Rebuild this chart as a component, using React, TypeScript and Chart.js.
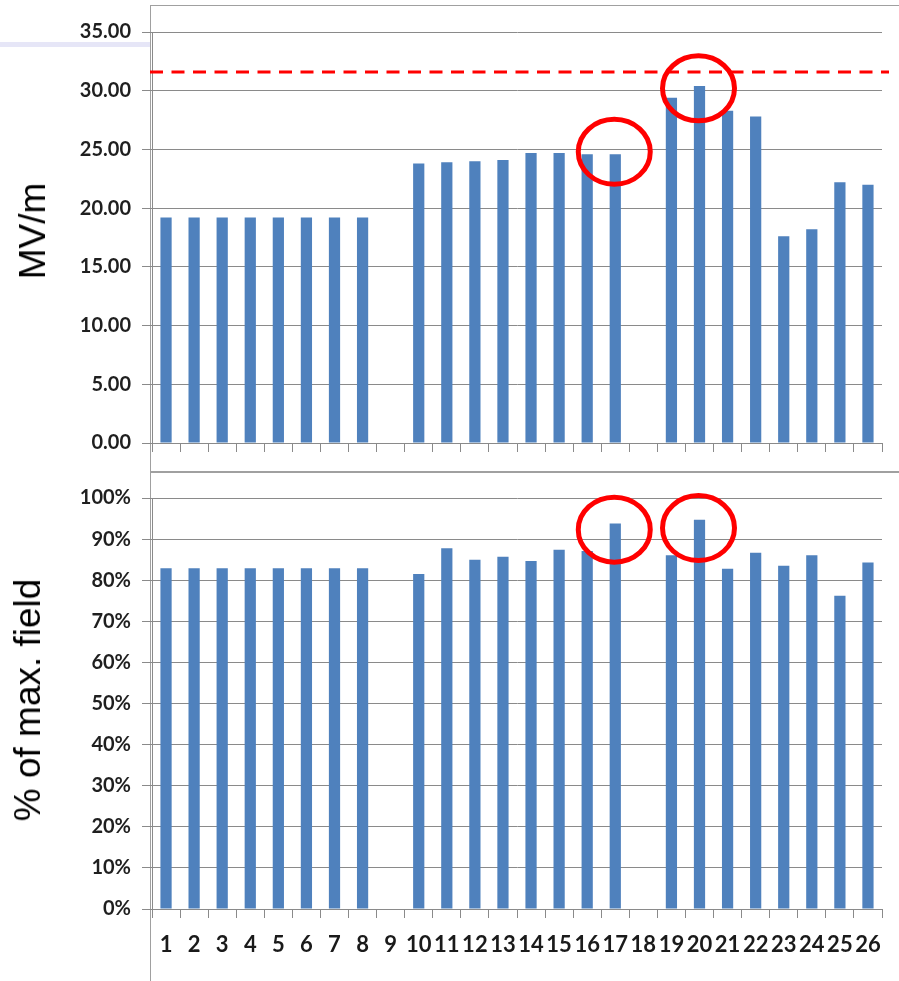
import React, { useEffect, useRef } from 'react';
import { Chart, registerables } from 'chart.js';

Chart.register(...registerables);

const categories = ['1','2','3','4','5','6','7','8','9','10','11','12','13','14','15','16','17','18','19','20','21','22','23','24','25','26'];

const fieldValues: (number | null)[] = [
  19.2, 19.2, 19.2, 19.2, 19.2, 19.2, 19.2, 19.2, null,
  23.8, 23.9, 24.0, 24.1, 24.7, 24.7, 24.6, 24.6, null,
  29.4, 30.4, 28.3, 27.8, 17.6, 18.2, 22.2, 22.0,
];

const pctValues: (number | null)[] = [
  82.9, 82.9, 82.9, 82.9, 82.9, 82.9, 82.9, 82.9, null,
  81.5, 87.8, 85.0, 85.7, 84.7, 87.4, 87.1, 93.8, null,
  86.1, 94.7, 82.8, 86.7, 83.5, 86.1, 76.2, 84.3,
];

const fieldAxis = { min: 0, max: 35, step: 5 };
const pctAxis = { min: 0, max: 100, step: 10 };
const fieldLimit = 31.6;

const highlightCats = ['17', '20'];
const fieldHighlightY = [24.8, 30.2];
const pctHighlightY = [92.3, 92.7];

const BAR = '#4F81BD';
const GRID = '#8a8a8a';
const TICKFONT = { family: 'Lato', weight: 'bold' as const, size: 20 };

function makeHighlightPlugin(id: string, ys: number[]) {
  return {
    id,
    afterDatasetsDraw(chart: any) {
      const { ctx, scales } = chart;
      ctx.save();
      ctx.strokeStyle = '#ff0000';
      ctx.lineWidth = 5;
      highlightCats.forEach((c, i) => {
        const x = scales.x.getPixelForValue(categories.indexOf(c));
        const y = scales.y.getPixelForValue(ys[i]);
        ctx.beginPath();
        ctx.ellipse(x - 1, y, 36, 32.5, 0, 0, Math.PI * 2);
        ctx.stroke();
      });
      ctx.restore();
    },
  };
}

const limitPlugin = {
  id: 'limitLine',
  afterDatasetsDraw(chart: any) {
    const { ctx, scales, chartArea } = chart;
    const y = scales.y.getPixelForValue(fieldLimit);
    ctx.save();
    ctx.strokeStyle = '#ff0000';
    ctx.lineWidth = 3;
    ctx.setLineDash([13, 8.5]);
    ctx.beginPath();
    ctx.moveTo(chartArea.left - 2, y);
    ctx.lineTo(chartArea.right + 7, y);
    ctx.stroke();
    ctx.restore();
  },
};

function baseOptions(axis: { min: number; max: number; step: number }, fmt: (v: number) => string, showX: boolean, xHeight: number, padTop: number) {
  return {
    responsive: false,
    animation: false,
    maintainAspectRatio: false,
    layout: { padding: { left: 0, right: 17, top: padTop, bottom: 0 } },
    plugins: { legend: { display: false }, tooltip: { enabled: false }, title: { display: false } },
    scales: {
      x: {
        grid: { display: true, drawOnChartArea: false, drawTicks: true, tickLength: 9, color: GRID, offset: true },
        border: { display: true, color: GRID, width: 1 },
        ticks: {
          display: showX,
          autoSkip: false,
          maxRotation: 0,
          minRotation: 0,
          padding: 14,
          color: '#1a1a1a',
          font: { family: 'Lato', weight: 'bold' as const, size: 22 },
        },
        afterFit: (s: any) => { s.height = xHeight; },
      },
      y: {
        min: axis.min,
        max: axis.max,
        ticks: {
          stepSize: axis.step,
          callback: (v: any) => fmt(Number(v)),
          color: '#1f1f1f',
          font: TICKFONT,
          padding: 11,
        },
        grid: { color: GRID, lineWidth: 1, tickLength: 10, drawTicks: true },
        border: { display: true, color: GRID, width: 1 },
        afterFit: (s: any) => { s.width = 152; },
      },
    },
  };
}

function BarPanel(props: { values: (number | null)[]; axis: any; fmt: (v: number) => string; showX: boolean; xHeight: number; padTop: number; plugins: any[]; width: number; height: number; style: any }) {
  const ref = useRef<HTMLCanvasElement | null>(null);
  useEffect(() => {
    if (!ref.current) return;
    const chart = new Chart(ref.current, {
      type: 'bar',
      data: {
        labels: categories,
        datasets: [{
          data: props.values as any,
          backgroundColor: BAR,
          borderWidth: 0,
          barPercentage: 0.4,
          categoryPercentage: 1,
        }],
      },
      options: baseOptions(props.axis, props.fmt, props.showX, props.xHeight, props.padTop) as any,
      plugins: props.plugins,
    });
    return () => chart.destroy();
  }, []);
  return <canvas ref={ref} width={props.width} height={props.height} style={{ position: 'absolute', ...props.style, width: props.width, height: props.height }} />;
}

function YTitle(props: { text: string; cx: number; cy: number; pad: number }) {
  return (
    <div style={{
      position: 'absolute',
      left: props.cx,
      top: props.cy,
      transform: 'translate(-50%, -50%) rotate(-90deg)',
      fontFamily: '"Liberation Sans", Arial, sans-serif',
      fontSize: 37,
      lineHeight: '44px',
      whiteSpace: 'nowrap',
      background: '#ffffff',
      color: '#000',
      padding: `0 ${props.pad}px`,
      zIndex: 3,
    }}>{props.text}</div>
  );
}

export default function App() {
  return (
    <div style={{ position: 'absolute', left: 0, top: 0, width: 899, height: 981, overflow: 'hidden', background: '#fff' }}>
      <div style={{ position: 'absolute', left: 0, top: 42, width: 150, height: 5, background: '#e6e6f7' }} />
      <div style={{ position: 'absolute', left: 150, top: 5, width: 749, height: 465, borderTop: '1px solid #a0a0a0', borderLeft: '1px solid #a0a0a0', borderBottom: '1px solid #a0a0a0' }} />
      <div style={{ position: 'absolute', left: 150, top: 472, width: 749, height: 520, borderTop: '1px solid #a0a0a0', borderLeft: '1px solid #a0a0a0' }} />
      <BarPanel
        values={fieldValues}
        axis={fieldAxis}
        fmt={(v) => v.toFixed(2)}
        showX={false}
        xHeight={27}
        padTop={32}
        plugins={[limitPlugin, makeHighlightPlugin('hlTop', fieldHighlightY)]}
        width={899}
        height={470}
        style={{ left: 0, top: 0, zIndex: 2 }}
      />
      <BarPanel
        values={pctValues}
        axis={pctAxis}
        fmt={(v) => `${Math.round(v)}%`}
        showX={true}
        xHeight={72}
        padTop={26}
        plugins={[makeHighlightPlugin('hlBottom', pctHighlightY)]}
        width={899}
        height={509}
        style={{ left: 0, top: 472, zIndex: 2 }}
      />
      <YTitle text="MV/m" cx={33} cy={231} pad={20} />
      <YTitle text="% of max. field" cx={28} cy={700} pad={23} />
    </div>
  );
}
